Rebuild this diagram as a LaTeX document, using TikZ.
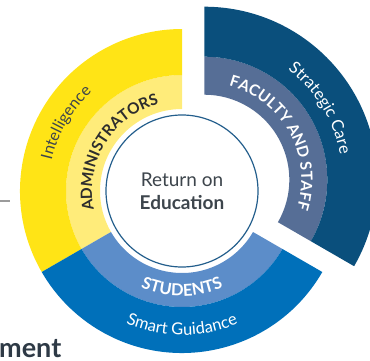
\documentclass[tikz,border=0pt]{standalone}
\usepackage{fontspec}
\setmainfont{Lato}
\usetikzlibrary{calc, decorations.text}

\definecolor{adminDark}{RGB}{255,228,22}
\definecolor{adminLight}{RGB}{255,236,122}
\definecolor{studentDark}{RGB}{0,112,186}
\definecolor{studentLight}{RGB}{92,141,201}
\definecolor{facultyDark}{RGB}{10,79,124}
\definecolor{facultyLight}{RGB}{86,110,150}
\definecolor{hubLine}{RGB}{35,94,140}
\definecolor{textDark}{RGB}{61,69,76}
\definecolor{adminText}{RGB}{45,45,45}
\definecolor{titleDark}{RGB}{46,58,70}
\definecolor{ruleGray}{RGB}{155,155,155}

\tikzset{
  hub/.style={circle, draw=hubLine, line width=1.2pt, fill=white, minimum size=152pt,
    inner sep=0pt, align=center, text=textDark, font=\fontsize{19}{23}\selectfont},
  bandlabel/.style={decorate, decoration={text along path, text align=center, #1}},
  title/.style={anchor=base west, inner sep=0pt, text=titleDark,
    font=\fontsize{27}{30}\selectfont\bfseries}
}

\begin{document}
\begin{tikzpicture}[x=1pt, y=1pt]

% Canvas
\clip (0,0) rectangle (370,360);

\coordinate (C) at (182,169);
\coordinate (N) at (204.3,180.3);

% Administrators and Students (inner and outer bands)
\foreach \angA/\angB/\ringIn/\ringOut in {90/210/adminLight/adminDark, 210/330/studentLight/studentDark}
{
    \fill[\ringIn] ($(C)+(\angA:82)$) arc[start angle=\angA, end angle=\angB, radius=82]
        -- ($(C)+(\angB:116)$) arc[start angle=\angB, end angle=\angA, radius=116] -- cycle;
    \fill[\ringOut] ($(C)+(\angA:116)$) arc[start angle=\angA, end angle=\angB, radius=116]
        -- ($(C)+(\angB:162)$) arc[start angle=\angB, end angle=\angA, radius=162] -- cycle;
}

% Faculty and Staff (pulled out of the ring)
\fill[facultyLight] ($(N)+(-30:85)$) arc[start angle=-30, end angle=90, radius=85]
    -- ($(N)+(90:123)$) arc[start angle=90, end angle=-30, radius=123] -- cycle;
\fill[facultyDark] ($(N)+(-30:123)$) arc[start angle=-30, end angle=90, radius=123]
    -- ($(N)+(90:173)$) arc[start angle=90, end angle=-30, radius=173] -- cycle;

% Centre
\node[hub] (roe) at (C) {Return on\\\textbf{Education}};

% Labels for Administrators
\path[bandlabel={text color=textDark, text={|\fontsize{16}{18}\selectfont|Intelligence}}]
    ($(C)+(209.5:134)$) arc[start angle=209.5, end angle=89.5, radius=134];
\path[bandlabel={text color=adminText, text={|\fontsize{15.5}{18}\selectfont\bfseries|ADMINISTRATORS}}]
    ($(C)+(218.5:90)$) arc[start angle=218.5, end angle=78.5, radius=90];

% Labels for Faculty and Staff
\path[bandlabel={text color=white, text={|\fontsize{15.5}{18}\selectfont\bfseries|FACULTY AND STAFF}}]
    ($(N)+(99:97)$) arc[start angle=99, end angle=-41, radius=97];
\path[bandlabel={text color=white, text={|\fontsize{16.5}{18}\selectfont|Strategic Care}}]
    ($(N)+(81.5:138)$) arc[start angle=81.5, end angle=-18.5, radius=138];

% Labels for Students
\path[bandlabel={text color=white, text={|\fontsize{16.5}{18}\selectfont\bfseries|STUDENTS}}]
    ($(C)+(220:105)$) arc[start angle=220, end angle=320, radius=105];
\path[bandlabel={text color=white, text={|\fontsize{16.5}{18}\selectfont|Smart Guidance}}]
    ($(C)+(220:144)$) arc[start angle=220, end angle=320, radius=144];

% Rule and cut-off heading on the left
\draw[ruleGray, line width=2pt] (0,159) -- (9.5,159);
\node[title] (tail) at (-1,3) {ment};

\end{tikzpicture}
\end{document}
